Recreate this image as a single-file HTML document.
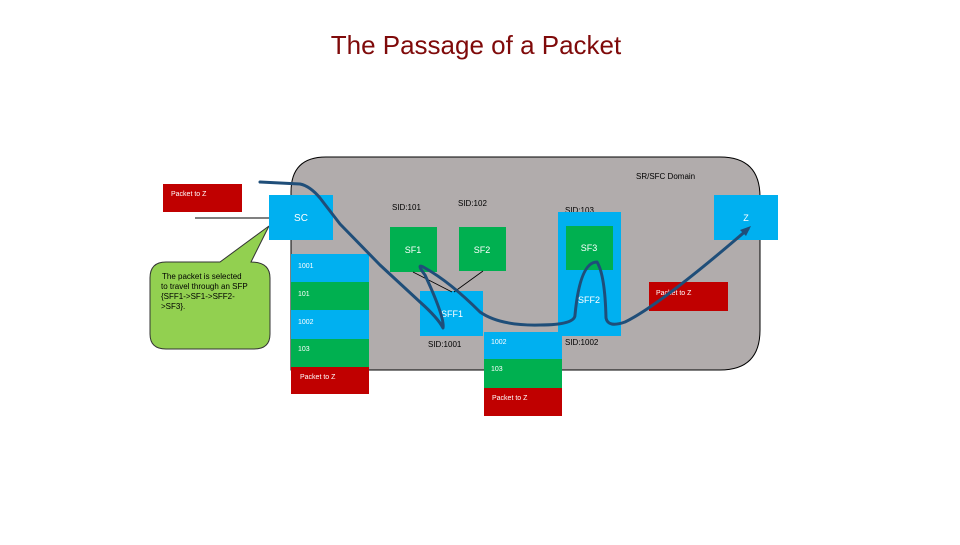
<!DOCTYPE html>
<html><head><meta charset="utf-8"><style>
body{margin:0;background:#fff;}
svg text{font-family:"Liberation Sans",sans-serif;}
</style></head><body>
<svg width="960" height="540" viewBox="0 0 960 540" xmlns="http://www.w3.org/2000/svg">
<rect width="960" height="540" fill="#fff"/>
<text x="476" y="54" text-anchor="middle" font-size="26" fill="#7f0a0a">The Passage of a Packet</text>
<path d="M291,370 V192 Q291,157 326,157 H720 Q760,157 760,197 V330 Q760,370 720,370 Z" fill="#b1acac" stroke="#000" stroke-width="1"/>
<text x="636" y="179" font-size="8" fill="#000">SR/SFC Domain</text>
<rect x="163" y="184" width="79" height="28" fill="#c00000"/>
<text x="171" y="196" font-size="7" fill="#fff">Packet to Z</text>
<line x1="195" y1="218" x2="269" y2="218" stroke="#000" stroke-width="1"/>
<path d="M150,278 Q150,262 166,262 H220 L269,226 L251,262 Q270,262 270,278 V334 Q270,349 254,349 H166 Q150,349 150,334 Z" fill="#92d050" stroke="#333" stroke-width="1"/>
<text font-size="8" fill="#000"><tspan x="162" y="279">The packet is selected</tspan><tspan x="161" y="289">to travel through an SFP</tspan><tspan x="161" y="299">{SFF1-&gt;SF1-&gt;SFF2-</tspan><tspan x="161" y="309">&gt;SF3}.</tspan></text>
<rect x="269" y="195" width="64" height="45" fill="#00b0f0"/>
<text x="301" y="221" text-anchor="middle" font-size="10" fill="#fff">SC</text>
<rect x="291" y="254" width="78" height="28" fill="#00b0f0"/>
<rect x="291" y="282" width="78" height="28" fill="#00b050"/>
<rect x="291" y="310" width="78" height="29" fill="#00b0f0"/>
<rect x="291" y="339" width="78" height="28" fill="#00b050"/>
<rect x="291" y="367" width="78" height="27" fill="#c00000"/>
<text font-size="7" fill="#fff"><tspan x="298" y="268">1001</tspan><tspan x="298" y="296">101</tspan><tspan x="298" y="324">1002</tspan><tspan x="298" y="351">103</tspan><tspan x="300" y="379">Packet to Z</tspan></text>
<text x="392" y="210" font-size="8" fill="#000">SID:101</text>
<text x="458" y="206" font-size="8" fill="#000">SID:102</text>
<text x="565" y="213" font-size="8" fill="#000">SID:103</text>
<rect x="390" y="227" width="47" height="45" fill="#00b050"/>
<rect x="459" y="227" width="47" height="44" fill="#00b050"/>
<text x="413" y="253" text-anchor="middle" font-size="9" fill="#fff">SF1</text>
<text x="482" y="253" text-anchor="middle" font-size="9" fill="#fff">SF2</text>
<rect x="420" y="291" width="63" height="45" fill="#00b0f0"/>
<text x="452" y="317" text-anchor="middle" font-size="9" fill="#fff">SFF1</text>
<line x1="413" y1="272" x2="452" y2="292" stroke="#000" stroke-width="0.8"/>
<line x1="483" y1="271" x2="454" y2="292" stroke="#000" stroke-width="0.8"/>
<text x="428" y="347" font-size="8" fill="#000">SID:1001</text>
<rect x="558" y="212" width="63" height="124" fill="#00b0f0"/>
<rect x="566" y="226" width="47" height="44" fill="#00b050"/>
<text x="589" y="251" text-anchor="middle" font-size="9" fill="#fff">SF3</text>
<text x="589" y="303" text-anchor="middle" font-size="9" fill="#fff">SFF2</text>
<text x="565" y="345" font-size="8" fill="#000">SID:1002</text>
<rect x="484" y="332" width="78" height="27" fill="#00b0f0"/>
<rect x="484" y="359" width="78" height="29" fill="#00b050"/>
<rect x="484" y="388" width="78" height="28" fill="#c00000"/>
<text font-size="7" fill="#fff"><tspan x="491" y="344">1002</tspan><tspan x="491" y="371">103</tspan><tspan x="492" y="400">Packet to Z</tspan></text>
<rect x="714" y="195" width="64" height="45" fill="#00b0f0"/>
<text x="746" y="221" text-anchor="middle" font-size="9" fill="#fff">Z</text>
<rect x="649" y="282" width="79" height="29" fill="#c00000"/>
<text x="656" y="295" font-size="7" fill="#fff">Packet to Z</text>
<path d="M260,182 L300,184 Q310,186 320,198 L340,224 L380,265 L420,302 Q438,318 443,328 Q445,318 425,275 Q415,262 425,268 Q450,282 480,312 Q500,326 540,325 Q575,325 575,315 Q580,262 597,262 Q605,275 606,318 Q608,328 625,322 Q660,305 748,229" fill="none" stroke="#1f4e79" stroke-width="3" stroke-linecap="round" stroke-linejoin="round"/>
<path d="M751,226 L740,230 L746,236 Z" fill="#1f4e79"/>
</svg>
</body></html>
